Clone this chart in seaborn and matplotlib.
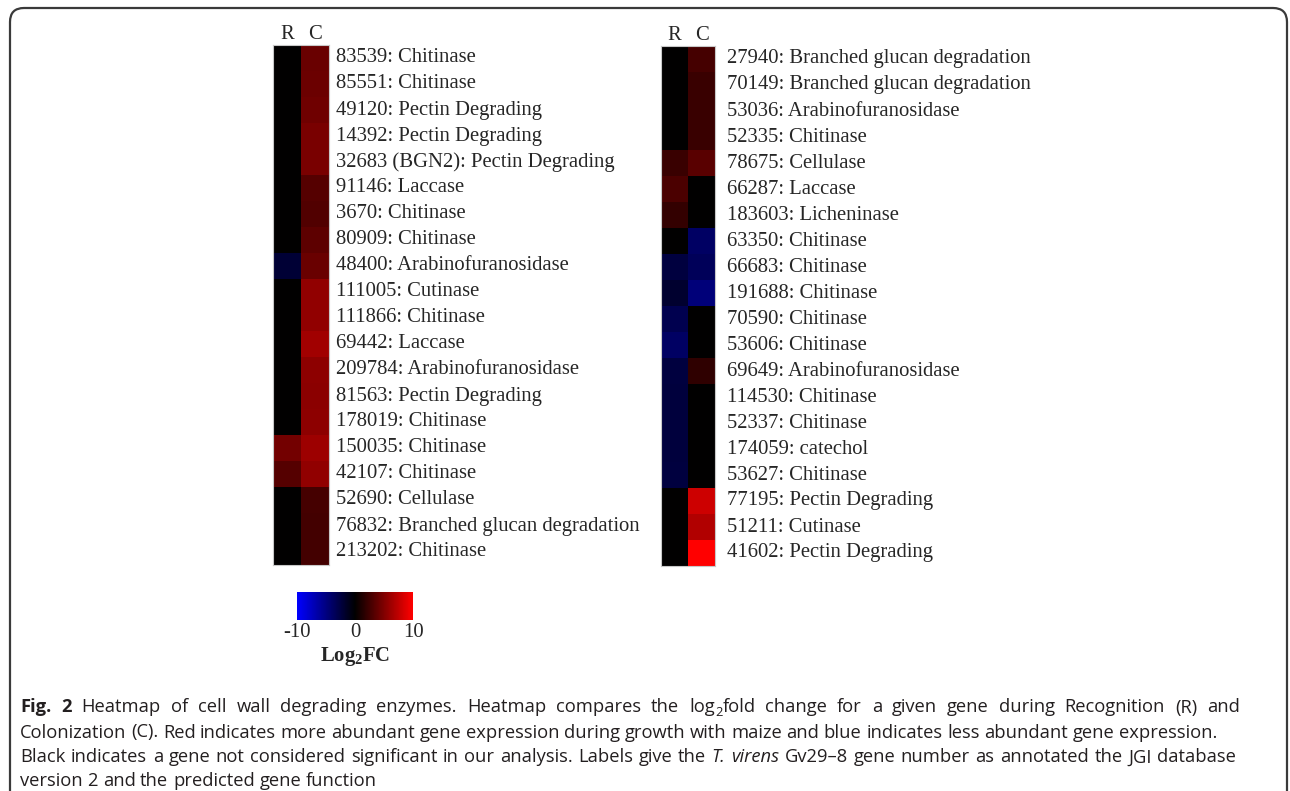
import matplotlib
matplotlib.use("Agg")
import matplotlib.pyplot as plt
from matplotlib.colors import LinearSegmentedColormap
from matplotlib.patches import FancyBboxPatch
from matplotlib.transforms import IdentityTransform
import pandas as pd
import seaborn as sns

# ---- data: log2 fold change, Recognition (R) and Colonization (C) ----
conditions = ["R", "C"]

left_genes = [
    "83539: Chitinase", "85551: Chitinase", "49120: Pectin Degrading",
    "14392: Pectin Degrading", "32683 (BGN2): Pectin Degrading",
    "91146: Laccase", "3670: Chitinase", "80909: Chitinase",
    "48400: Arabinofuranosidase", "111005: Cutinase", "111866: Chitinase",
    "69442: Laccase", "209784: Arabinofuranosidase", "81563: Pectin Degrading",
    "178019: Chitinase", "150035: Chitinase", "42107: Chitinase",
    "52690: Cellulase", "76832: Branched glucan degradation",
    "213202: Chitinase",
]
left_R = [0, 0, 0, 0, 0, 0, 0, 0, -2.1, 0, 0, 0, 0, 0, 0, 4.5, 3.3, 0, 0, 0]
left_C = [4.1, 4.2, 4.3, 4.7, 4.7, 3.3, 3.2, 3.6, 4.1, 5.7, 5.7, 6.3,
          5.5, 5.4, 5.5, 6.1, 5.7, 2.7, 2.6, 2.6]

right_genes = [
    "27940: Branched glucan degradation", "70149: Branched glucan degradation",
    "53036: Arabinofuranosidase", "52335: Chitinase", "78675: Cellulase",
    "66287: Laccase", "183603: Licheninase", "63350: Chitinase",
    "66683: Chitinase", "191688: Chitinase", "70590: Chitinase",
    "53606: Chitinase", "69649: Arabinofuranosidase", "114530: Chitinase",
    "52337: Chitinase", "174059: catechol", "53627: Chitinase",
    "77195: Pectin Degrading", "51211: Cutinase", "41602: Pectin Degrading",
]
right_R = [0, 0, 0, 0, 2.2, 2.9, 2.0, 0, -2.5, -1.8, -3.1, -3.9, -2.5,
           -2.4, -2.4, -2.4, -2.5, 0, 0, 0]
right_C = [2.7, 2.2, 2.2, 2.2, 3.5, 0, 0, -3.9, -3.5, -4.7, 0, 0, 1.8,
           0, 0, 0, 0, 8.0, 6.9, 10.0]

cbar_ticks = [-10, 0, 10]

# ---- styling ----
sns.set_theme(style="white")
plt.rcParams["font.family"] = ["Liberation Serif", "DejaVu Serif"]
plt.rcParams["mathtext.fontset"] = "custom"
plt.rcParams["mathtext.rm"] = "Liberation Serif"
plt.rcParams["mathtext.bf"] = "Liberation Serif:bold"

W, H = 1290, 791
fig = plt.figure(figsize=(W / 100, H / 100), dpi=100)
fig.patch.set_facecolor("white")

cmap = LinearSegmentedColormap.from_list("bkr", ["#0000ff", "#000000", "#ff0000"])
label_size = 14.9


def px_box(x0, y0, x1, y1):
    """Pixel box (top-left origin) -> figure-fraction rect."""
    return [x0 / W, 1 - y1 / H, (x1 - x0) / W, (y1 - y0) / H]


def draw_heatmap(ax, genes, r_vals, c_vals, label_pad, cbar_ax=None):
    df = pd.DataFrame({"R": r_vals, "C": c_vals}, index=genes)[conditions]
    sns.heatmap(
        df, ax=ax, cmap=cmap, vmin=-10, vmax=10, center=0,
        cbar=cbar_ax is not None, cbar_ax=cbar_ax,
        cbar_kws={"orientation": "horizontal", "ticks": cbar_ticks} if cbar_ax is not None else None,
        linewidths=0, xticklabels=True, yticklabels=True,
    )
    ax.xaxis.tick_top()
    ax.yaxis.tick_right()
    ax.tick_params(axis="both", length=0)
    ax.tick_params(axis="x", pad=0.5, labelsize=label_size)
    ax.tick_params(axis="y", pad=label_pad, labelsize=label_size)
    for t in ax.get_yticklabels():
        t.set_rotation(0)
        t.set_ha("left")
        t.set_va("center")
    for t in ax.get_xticklabels():
        t.set_rotation(0)
    ax.set_xlabel("")
    ax.set_ylabel("")
    for s in ax.spines.values():
        s.set_visible(True)
        s.set_color("#c8c8c8")
        s.set_linewidth(0.8)


ax_left = fig.add_axes(px_box(273, 45, 329, 565))
ax_right = fig.add_axes(px_box(661, 46, 715, 566))
cax = fig.add_axes(px_box(297, 592, 413, 620))

draw_heatmap(ax_left, left_genes, left_R, left_C, label_pad=5, cbar_ax=cax)
draw_heatmap(ax_right, right_genes, right_R, right_C, label_pad=8.5)

cax.tick_params(axis="x", length=0, pad=2, labelsize=label_size)
cax.set_xticklabels([str(t) for t in cbar_ticks])
cax.set_xlabel(r"$\mathbf{Log_{2}FC}$", fontsize=label_size, labelpad=2)
for s in cax.spines.values():
    s.set_visible(False)

# ---- caption (word-by-word layout so lines can be justified) ----
cap_font = "Open Sans"
cap_size = 13.2
cap_color = "#231f20"
renderer = fig.canvas.get_renderer()


def words_of(text, style=None):
    return [[(w, style or {})] for w in text.split(" ") if w]


def caption_line(y_base, words, right=None, left=20):
    placed = []
    widths = []
    for pieces in words:
        group = []
        wsum = 0.0
        for text, style in pieces:
            kw = dict(family=cap_font, fontsize=cap_size, color=cap_color,
                      ha="left", va="baseline")
            kw.update({k: v for k, v in style.items() if k != "sub"})
            if style.get("sub"):
                kw["fontsize"] = cap_size * 0.7
            t = fig.text(0, 0, text, **kw)
            w = t.get_window_extent(renderer).width
            group.append((t, w, style.get("sub", False)))
            wsum += w
        placed.append(group)
        widths.append(wsum)
    probe = fig.text(0, 0, "a a", family=cap_font, fontsize=cap_size)
    probe2 = fig.text(0, 0, "aa", family=cap_font, fontsize=cap_size)
    space = probe.get_window_extent(renderer).width - probe2.get_window_extent(renderer).width
    probe.remove()
    probe2.remove()
    gap = space
    if right is not None and len(words) > 1:
        gap = (right - left - sum(widths)) / (len(words) - 1)
    x = left
    for group, wsum in zip(placed, widths):
        for t, w, is_sub in group:
            y = y_base + (4 if is_sub else 0)
            t.set_position((x / W, 1 - y / H))
            x += w
        x += gap


line1 = ([[("Fig.", {"weight": "bold"})], [("2", {"weight": "bold"})]]
         + words_of("Heatmap of cell wall degrading enzymes. Heatmap compares the")
         + [[("log", {}), ("2", {"sub": True}), ("fold", {})]]
         + words_of("change for a given gene during Recognition (R) and"))
line2 = words_of("Colonization (C). Red indicates more abundant gene expression during "
                 "growth with maize and blue indicates less abundant gene expression.")
line3 = (words_of("Black indicates a gene not considered significant in our analysis. "
                  "Labels give the")
         + words_of("T. virens", {"style": "italic"})
         + words_of("Gv29\u20138 gene number as annotated the JGI database"))
line4 = words_of("version 2 and the predicted gene function")

caption_line(712.5, line1, right=1240)
caption_line(737.5, line2, right=1217)
caption_line(762.5, line3, right=1236)
caption_line(786.5, line4)

# rounded panel frame
frame = FancyBboxPatch((10, -30), 1277, H - 8 + 30,
                       boxstyle="round,pad=0,rounding_size=14",
                       transform=IdentityTransform(), fill=False,
                       edgecolor="#3a3a3a", linewidth=1.6)
fig.patches.append(frame)

fig.savefig("out.png", dpi=100)
